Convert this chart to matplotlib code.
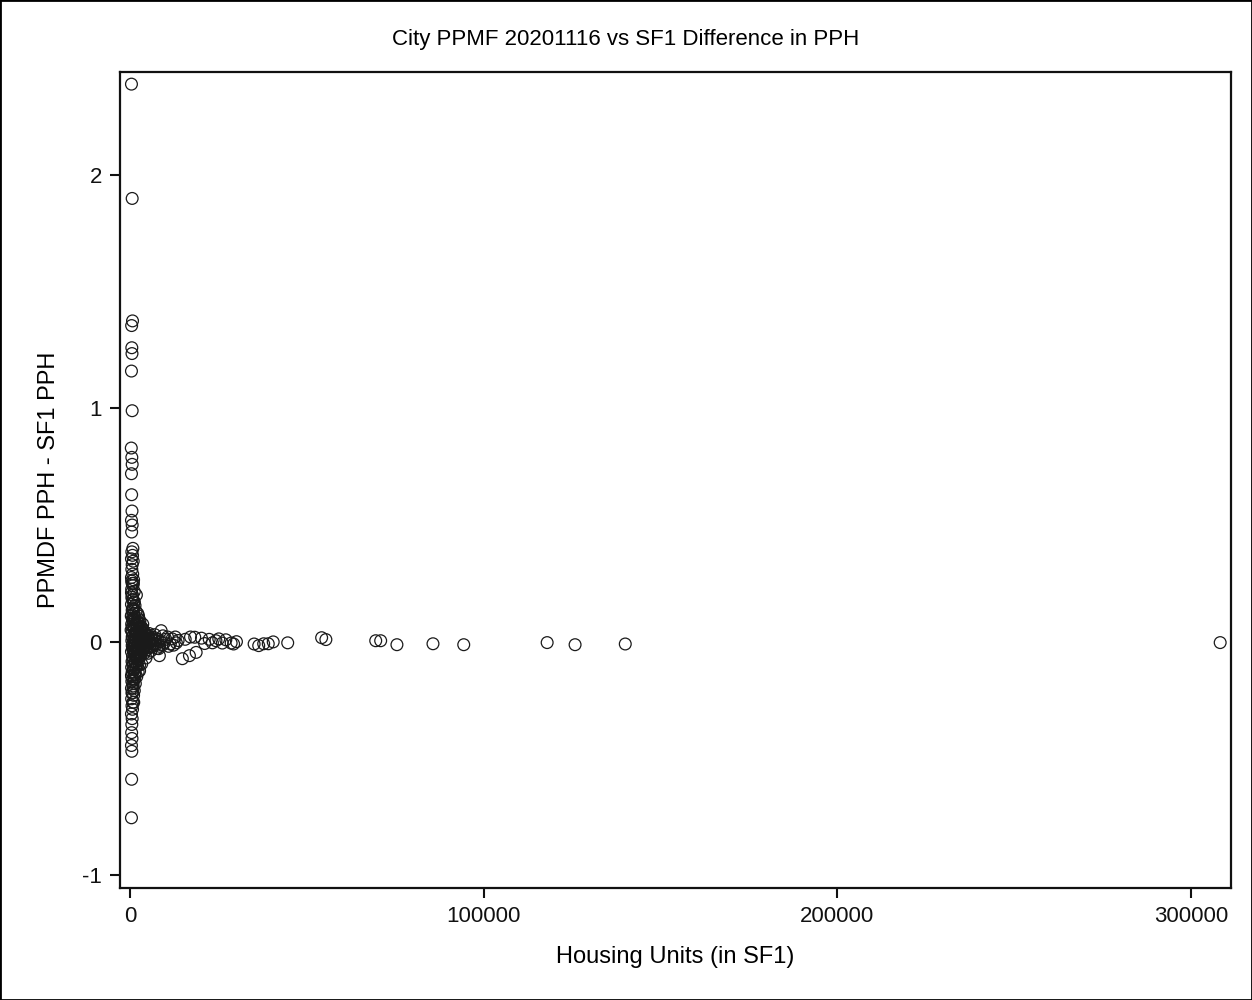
import matplotlib
matplotlib.use("Agg")
import matplotlib.pyplot as plt
from matplotlib.patches import Rectangle

plt.rcParams['font.family'] = ['Liberation Sans', 'DejaVu Sans']

title = "City PPMF 20201116 vs SF1 Difference in PPH"
xlabel = "Housing Units (in SF1)"
ylabel = "PPMDF PPH - SF1 PPH"
xticks = [0, 100000, 200000, 300000]
xtick_labels = ["0", "100000", "200000", "300000"]
yticks = [-1, 0, 1, 2]
ytick_labels = ["-1", "0", "1", "2"]

# small cities: column near x = 0
col_x = [300, 500, 600, 350, 400, 450, 300, 500, 250, 400, 500, 300, 350, 450, 300, 500, 350,
         700, 400, 600, 300, 800, 500, 400, 650, 300, 900, 500, 700, 350, 1100, 600, 400, 800,
         1000, 300, 1300, 700, 500, 1600, 900, 400, 1200, 2200, 600, 1800, 800, 2600, 350, 1400,
         3000, 700, 2000, 1100, 3600, 500, 2400, 1600, 4200, 900, 2900, 1300, 5200, 600, 3300,
         2100, 6000, 1000, 4500, 1700, 7000, 400, 2600, 3800, 8500, 1200, 5500, 2300, 700, 4000,
         6500, 1500, 3100, 9000, 500, 2000, 4800, 1100, 3500, 7500, 800, 2500, 1400, 5800, 300,
         1900, 3900, 1000, 2800, 600, 1700, 4400, 900, 2300, 450, 1300, 3200, 700, 2000, 350,
         1500, 900, 2600, 500, 1200, 300, 1800, 650, 1000, 400, 1400, 800, 300, 1100, 550, 900,
         350, 700, 450, 600, 300, 500, 400, 350, 450, 300, 400, 350, 300]
col_y = [2.39, 1.90, 1.375, 1.355, 1.26, 1.235, 1.16, 0.99, 0.83, 0.79, 0.76, 0.72, 0.63, 0.56,
         0.52, 0.50, 0.47, 0.40, 0.385, 0.37, 0.355, 0.345, 0.33, 0.31, 0.29, 0.275, 0.265, 0.25,
         0.24, 0.225, 0.215, 0.20, 0.19, 0.18, 0.17, 0.16, 0.155, 0.145, 0.135, 0.13, 0.12,
         0.115, 0.105, 0.10, 0.095, 0.09, 0.085, 0.08, 0.075, 0.07, 0.065, 0.06, 0.058, 0.052,
         0.048, 0.045, 0.04, 0.036, 0.034, 0.03, 0.027, 0.024, 0.022, 0.02, 0.018, 0.015, 0.013,
         0.011, 0.009, 0.007, 0.006, 0.004, 0.003, 0.001, 0.0, -0.001, -0.003, -0.004, -0.006,
         -0.008, -0.01, -0.012, -0.014, -0.015, -0.017, -0.019, -0.021, -0.024, -0.027, -0.029,
         -0.031, -0.034, -0.037, -0.04, -0.043, -0.046, -0.05, -0.054, -0.058, -0.062, -0.066,
         -0.07, -0.075, -0.08, -0.085, -0.09, -0.095, -0.10, -0.105, -0.11, -0.115, -0.12,
         -0.125, -0.13, -0.14, -0.145, -0.15, -0.16, -0.165, -0.17, -0.18, -0.19, -0.20, -0.21,
         -0.22, -0.23, -0.245, -0.26, -0.275, -0.29, -0.31, -0.33, -0.355, -0.39, -0.415, -0.445,
         -0.47, -0.59, -0.755]

# dense core around zero
core_x = [200, 900, 1500, 2200, 2700, 3300, 3800, 4300, 4700, 5100, 5600, 6100, 6700, 7200,
          7800, 8000, 9200, 9600, 10000, 10800, 11800, 12200, 13000, 600, 1300, 1900, 2400,
          3100, 3600, 4100, 4900, 5400, 6300, 700, 1700, 2900, 3400, 4600, 5300, 250, 800,
          1200, 2000, 2500, 3000, 1000, 1600, 2100, 400, 1100, 1800, 2700, 300, 650, 1400,
          2300, 3500, 5000, 6900, 8300,
          500, 1000, 1500, 2000, 2500, 3000, 3500, 4000, 4500, 5500, 6000, 7000, 800, 1300,
          1800, 2300, 2800, 3300, 3800, 4300, 600, 1100, 1600, 2100, 2600, 3100, 700, 1200,
          1700, 2200, 350, 450, 550, 750, 850, 950]
core_y = [0.05, -0.04, 0.035, -0.028, 0.022, 0.03, -0.02, 0.012, -0.035, 0.028, 0.005,
          -0.022, 0.018, -0.012, 0.01, -0.03, 0.025, -0.005, 0.01, -0.02, 0.012, -0.015,
          -0.005, 0.068, -0.055, 0.045, -0.045, 0.042, -0.032, 0.038, 0.015, -0.025, 0.008,
          -0.085, 0.078, -0.062, 0.058, -0.015, 0.035, 0.11, -0.12, 0.092, -0.075, 0.064,
          -0.048, 0.14, -0.11, 0.12, -0.15, 0.17, -0.095, 0.09, 0.21, -0.18, -0.14, 0.11,
          0.075, -0.05, 0.03, -0.02,
          0.02, -0.015, 0.008, -0.01, 0.015, -0.006, 0.012, -0.018, 0.006, -0.004, 0.01,
          -0.008, 0.1, -0.09, 0.07, -0.065, 0.05, -0.04, 0.022, -0.03, -0.03, 0.055, -0.07,
          0.085, -0.1, 0.06, 0.14, -0.16, 0.2, -0.13, 0.26, -0.22, 0.18, -0.2, 0.25, -0.26]

# larger cities: tail to the right
tail_x = [8200, 8700, 10500, 11300, 12700, 13500, 14700, 15500, 16700, 17000, 18600, 18200,
          20100, 21000, 22300, 23200, 24200, 25000, 26000, 27000, 28500, 29200, 30000, 35000,
          36300, 37700, 39000, 40400, 44500, 54100, 55300, 69400, 70800, 75400, 85600, 94300,
          117900, 125800, 140000, 308300]
tail_y = [-0.06, 0.047, 0.02, -0.01, 0.02, 0.005, -0.073, 0.01, -0.06, 0.02, -0.046, 0.019,
          0.015, -0.008, 0.01, -0.005, 0.004, 0.012, -0.006, 0.008, -0.006, -0.01, 0.0, -0.01,
          -0.017, -0.009, -0.009, -0.001, -0.005, 0.017, 0.009, 0.004, 0.004, -0.013, -0.009,
          -0.013, -0.004, -0.013, -0.01, -0.004]

x_all = col_x + core_x + tail_x
y_all = col_y + core_y + tail_y

fig = plt.figure(figsize=(12.52, 10), dpi=100)
ax = fig.add_axes([120/1252, 112/1000, 1111/1252, 816/1000])
ax.scatter(x_all, y_all, s=72, facecolors='none', edgecolors='#1a1a1a', linewidths=0.9)

ax.set_xlim(-2942, 311360)
ax.set_ylim(-1.056, 2.442)
ax.set_xticks(xticks)
ax.set_xticklabels(xtick_labels)
ax.set_yticks(yticks)
ax.set_yticklabels(ytick_labels)
for s in ax.spines.values():
    s.set_linewidth(1.6)
    s.set_color('#111111')
ax.tick_params(direction='out', length=7, width=1.5, labelsize=16, pad=6, colors='#111111')
fig.text(0.5, 1 - 40/1000, title, fontsize=16, ha='center', va='center')
ax.set_xlabel(xlabel, fontsize=17, labelpad=14)
ax.set_ylabel(ylabel, fontsize=17, labelpad=16)

fig.patches.append(Rectangle((0, 0), 1, 1, transform=fig.transFigure, fill=False,
                             edgecolor='black', linewidth=2))
fig.savefig("out.png", dpi=100)
